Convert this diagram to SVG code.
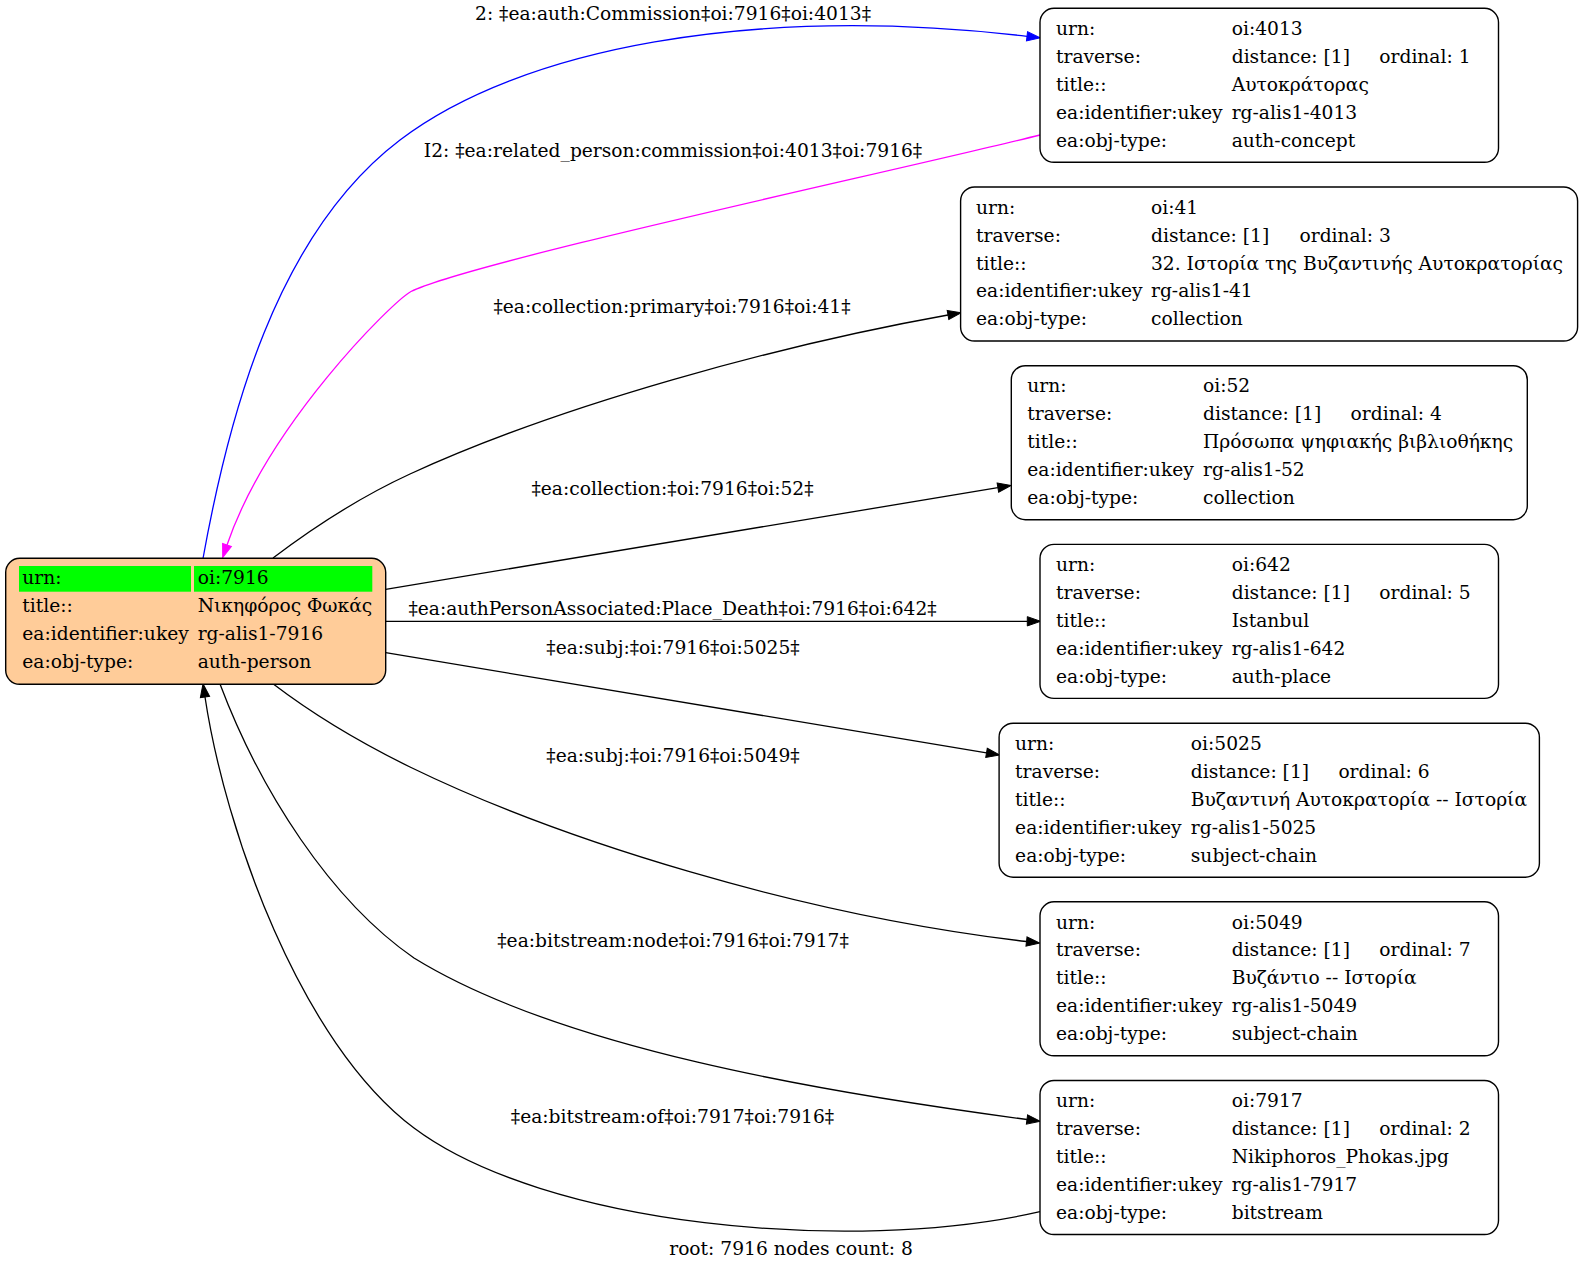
<svg xmlns="http://www.w3.org/2000/svg" width="1583" height="1271" viewBox="0 0 1583 1271">
<style>
text{font-family:"DejaVu Serif","Liberation Serif",serif;font-size:18.67px;fill:#000}
.lbl{text-anchor:middle}
.box{fill:#fff;stroke:#000;stroke-width:1.4}
.root{fill:#ffcc99;stroke:#000;stroke-width:1.4}
.cell{fill:#00ff00}
.e{fill:none;stroke:#000;stroke-width:1.3}
.eb{fill:none;stroke:#0000ff;stroke-width:1.3}
.em{fill:none;stroke:#ff00ff;stroke-width:1.3}
</style>
<defs>
<marker id="ak" markerUnits="userSpaceOnUse" markerWidth="14" markerHeight="10" refX="0" refY="4.67" orient="auto" overflow="visible"><path d="M0,0 L13.3,4.67 L0,9.33 z" fill="#000" stroke="#000" stroke-width="1"/></marker>
<marker id="ab" markerUnits="userSpaceOnUse" markerWidth="14" markerHeight="10" refX="0" refY="4.67" orient="auto" overflow="visible"><path d="M0,0 L13.3,4.67 L0,9.33 z" fill="#0000ff" stroke="#0000ff" stroke-width="1"/></marker>
<marker id="am" markerUnits="userSpaceOnUse" markerWidth="14" markerHeight="10" refX="0" refY="4.67" orient="auto" overflow="visible"><path d="M0,0 L13.3,4.67 L0,9.33 z" fill="#ff00ff" stroke="#ff00ff" stroke-width="1"/></marker>
</defs>
<rect width="1583" height="1271" fill="#fff"/>

<g id="connectors">
<path class="eb" d="M203,558.5 C228,420 275,235 400,140 C520,49 750,4 1027,36.3" marker-end="url(#ab)"/>
<text class="lbl" x="673" y="20">2: ‡ea:auth:Commission‡oi:7916‡oi:4013‡</text>
<path class="em" d="M1040,135 C900,170 470,262 411,291.5 C392,302 268,425 227,545" marker-end="url(#am)"/>
<text class="lbl" x="673" y="157">I2: ‡ea:related_person:commission‡oi:4013‡oi:7916‡</text>
<path class="e" d="M273,558 C310,530 360,497 410,474 C560,405 780,345 948,315" marker-end="url(#ak)"/>
<text class="lbl" x="672" y="313">‡ea:collection:primary‡oi:7916‡oi:41‡</text>
<path class="e" d="M385.7,589.3 L997.9,487.7" marker-end="url(#ak)"/>
<text class="lbl" x="672.5" y="495">‡ea:collection:‡oi:7916‡oi:52‡</text>
<path class="e" d="M385.7,621.3 L1027.3,621.3" marker-end="url(#ak)"/>
<text class="lbl" x="672.5" y="615">‡ea:authPersonAssociated:Place_Death‡oi:7916‡oi:642‡</text>
<path class="e" d="M385.7,652.7 L986.5,752.8" marker-end="url(#ak)"/>
<text class="lbl" x="673" y="654">‡ea:subj:‡oi:7916‡oi:5025‡</text>
<path class="e" d="M273.3,684 C310,712 355,740 410,767 C560,840 800,915 1026.5,941.5" marker-end="url(#ak)"/>
<text class="lbl" x="673" y="762">‡ea:subj:‡oi:7916‡oi:5049‡</text>
<path class="e" d="M220,684 C260,790 330,900 414,958 C560,1048 820,1092 1027,1119.5" marker-end="url(#ak)"/>
<text class="lbl" x="673" y="946.5">‡ea:bitstream:node‡oi:7916‡oi:7917‡</text>
<path class="e" d="M1040,1211.7 C850,1255 544,1225.5 414,1128 C300,1042.5 225,830 205,697" marker-end="url(#ak)"/>
<text class="lbl" x="672.5" y="1122.5">‡ea:bitstream:of‡oi:7917‡oi:7916‡</text>
</g>

<g id="node-7916">
<rect class="root" x="5.7" y="558.3" width="380" height="126" rx="14"/>
<rect class="cell" x="19" y="566" width="172" height="25.7"/>
<rect class="cell" x="194" y="566" width="178.3" height="25.7"/>
<text x="22.3" y="584.3">urn:</text><text x="197.7" y="584.3">oi:7916</text>
<text x="22.3" y="612.3">title::</text><text x="197.7" y="612.3">Νικηφόρος Φωκάς</text>
<text x="22.3" y="640.3">ea:identifier:ukey</text><text x="197.7" y="640.3">rg-alis1-7916</text>
<text x="22.3" y="668.3">ea:obj-type:</text><text x="197.7" y="668.3">auth-person</text>
</g>

<g id="node-4013">
<rect class="box" x="1040" y="8.3" width="458.5" height="154" rx="14"/>
<text x="1056" y="35">urn:</text><text x="1231.7" y="35">oi:4013</text>
<text x="1056" y="62.9">traverse:</text><text x="1231.7" y="62.9">distance: [1]</text><text x="1379.3" y="62.9">ordinal: 1</text>
<text x="1056" y="90.8">title::</text><text x="1231.7" y="90.8">Αυτοκράτορας</text>
<text x="1056" y="118.7">ea:identifier:ukey</text><text x="1231.7" y="118.7">rg-alis1-4013</text>
<text x="1056" y="146.6">ea:obj-type:</text><text x="1231.7" y="146.6">auth-concept</text>
</g>

<g id="node-41">
<rect class="box" x="960.6" y="187" width="617" height="154" rx="14"/>
<text x="976" y="213.7">urn:</text><text x="1151" y="213.7">oi:41</text>
<text x="976" y="241.6">traverse:</text><text x="1151" y="241.6">distance: [1]</text><text x="1299.5" y="241.6">ordinal: 3</text>
<text x="976" y="269.5">title::</text><text x="1151" y="269.5">32. Ιστορία της Βυζαντινής Αυτοκρατορίας</text>
<text x="976" y="297.4">ea:identifier:ukey</text><text x="1151" y="297.4">rg-alis1-41</text>
<text x="976" y="325.3">ea:obj-type:</text><text x="1151" y="325.3">collection</text>
</g>

<g id="node-52">
<rect class="box" x="1011.3" y="365.7" width="516" height="154" rx="14"/>
<text x="1027.3" y="392.4">urn:</text><text x="1203" y="392.4">oi:52</text>
<text x="1027.3" y="420.3">traverse:</text><text x="1203" y="420.3">distance: [1]</text><text x="1350.6" y="420.3">ordinal: 4</text>
<text x="1027.3" y="448.2">title::</text><text x="1203" y="448.2">Πρόσωπα ψηφιακής βιβλιοθήκης</text>
<text x="1027.3" y="476.1">ea:identifier:ukey</text><text x="1203" y="476.1">rg-alis1-52</text>
<text x="1027.3" y="504">ea:obj-type:</text><text x="1203" y="504">collection</text>
</g>

<g id="node-642">
<rect class="box" x="1040" y="544.4" width="458.5" height="154" rx="14"/>
<text x="1056" y="571.1">urn:</text><text x="1231.7" y="571.1">oi:642</text>
<text x="1056" y="599">traverse:</text><text x="1231.7" y="599">distance: [1]</text><text x="1379.3" y="599">ordinal: 5</text>
<text x="1056" y="626.9">title::</text><text x="1231.7" y="626.9">Istanbul</text>
<text x="1056" y="654.8">ea:identifier:ukey</text><text x="1231.7" y="654.8">rg-alis1-642</text>
<text x="1056" y="682.7">ea:obj-type:</text><text x="1231.7" y="682.7">auth-place</text>
</g>

<g id="node-5025">
<rect class="box" x="999.1" y="723.2" width="540.3" height="154" rx="14"/>
<text x="1015.1" y="749.9">urn:</text><text x="1190.8" y="749.9">oi:5025</text>
<text x="1015.1" y="777.8">traverse:</text><text x="1190.8" y="777.8">distance: [1]</text><text x="1338.4" y="777.8">ordinal: 6</text>
<text x="1015.1" y="805.7">title::</text><text x="1190.8" y="805.7">Βυζαντινή Αυτοκρατορία -- Ιστορία</text>
<text x="1015.1" y="833.6">ea:identifier:ukey</text><text x="1190.8" y="833.6">rg-alis1-5025</text>
<text x="1015.1" y="861.5">ea:obj-type:</text><text x="1190.8" y="861.5">subject-chain</text>
</g>

<g id="node-5049">
<rect class="box" x="1040" y="901.8" width="458.5" height="154" rx="14"/>
<text x="1056" y="928.5">urn:</text><text x="1231.7" y="928.5">oi:5049</text>
<text x="1056" y="956.4">traverse:</text><text x="1231.7" y="956.4">distance: [1]</text><text x="1379.3" y="956.4">ordinal: 7</text>
<text x="1056" y="984.3">title::</text><text x="1231.7" y="984.3">Βυζάντιο -- Ιστορία</text>
<text x="1056" y="1012.2">ea:identifier:ukey</text><text x="1231.7" y="1012.2">rg-alis1-5049</text>
<text x="1056" y="1040.1">ea:obj-type:</text><text x="1231.7" y="1040.1">subject-chain</text>
</g>

<g id="node-7917">
<rect class="box" x="1040" y="1080.5" width="458.5" height="154" rx="14"/>
<text x="1056" y="1107.2">urn:</text><text x="1231.7" y="1107.2">oi:7917</text>
<text x="1056" y="1135.1">traverse:</text><text x="1231.7" y="1135.1">distance: [1]</text><text x="1379.3" y="1135.1">ordinal: 2</text>
<text x="1056" y="1163">title::</text><text x="1231.7" y="1163">Nikiphoros_Phokas.jpg</text>
<text x="1056" y="1190.9">ea:identifier:ukey</text><text x="1231.7" y="1190.9">rg-alis1-7917</text>
<text x="1056" y="1218.8">ea:obj-type:</text><text x="1231.7" y="1218.8">bitstream</text>
</g>

<text id="graph-label" class="lbl" x="791" y="1255">root: 7916 nodes count: 8</text>
</svg>
